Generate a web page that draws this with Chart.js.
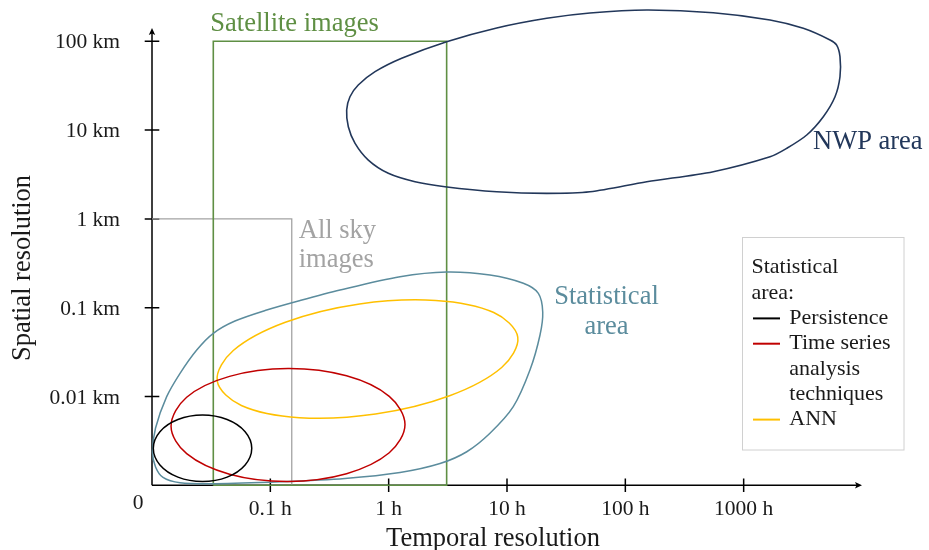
<!DOCTYPE html>
<html>
<head>
<meta charset="utf-8">
<script src="https://cdn.jsdelivr.net/npm/chart.js@4/dist/chart.umd.min.js"></script>
<style>
  html, body { margin: 0; padding: 0; background: #ffffff; }
  #wrap { width: 929px; height: 550px; }
</style>
</head>
<body>
<div id="wrap"><canvas id="c" width="929" height="550"></canvas></div>
<script>
// Both axes run in decades: x = log10(hours), y = log10(km).
// The origin ("0") sits at x = -2 (0.01 h) and y = -3 (0.001 km).
const xAxisStart = -2, xAxisEnd = 4;
const yAxisStart = -3, yAxisEnd = 2.15;
const xTickValues = [-1, 0, 1, 2, 3];
const xTickLabels = ['0.1 h', '1 h', '10 h', '100 h', '1000 h'];
const yTickValues = [-2, -1, 0, 1, 2];
const yTickLabels = ['0.01 km', '0.1 km', '1 km', '10 km', '100 km'];
const originLabel = '0';
const xTitle = 'Temporal resolution';
const yTitle = 'Spatial resolution';

// Outlines of the forecasting domains, [log10 h, log10 km]
const nwpArea = [
  [-0.355, 1.226], [-0.327, 1.376], [-0.257, 1.508], [-0.115, 1.658], [0.110, 1.809],
  [0.490, 1.995], [0.913, 2.150], [1.336, 2.259], [1.701, 2.319], [2.181, 2.352],
  [2.743, 2.322], [3.223, 2.240], [3.504, 2.146], [3.730, 2.015], [3.786, 1.958],
  [3.814, 1.827], [3.814, 1.601], [3.772, 1.376], [3.673, 1.151], [3.533, 0.945],
  [3.364, 0.795], [3.223, 0.700], [2.743, 0.532], [2.181, 0.419], [1.701, 0.306],
  [1.336, 0.288], [0.913, 0.306], [0.476, 0.363], [0.223, 0.419], [-0.003, 0.514],
  [-0.172, 0.663], [-0.284, 0.851], [-0.341, 1.038]
];
const statisticalArea = [
  [-1.996, -2.625], [-1.970, -2.355], [-1.876, -2.002], [-1.763, -1.739], [-1.622, -1.476],
  [-1.482, -1.288], [-1.299, -1.150], [-1.031, -1.026], [-0.749, -0.919], [-0.411, -0.801],
  [0.096, -0.651], [0.490, -0.598], [0.856, -0.632], [1.138, -0.725], [1.265, -0.838],
  [1.302, -1.048], [1.279, -1.307], [1.194, -1.702], [1.053, -2.115], [0.856, -2.414],
  [0.660, -2.622], [0.434, -2.755], [0.096, -2.856], [-0.369, -2.923], [-0.918, -2.961],
  [-1.468, -2.983], [-1.763, -2.972], [-1.907, -2.912], [-1.970, -2.794]
];
const annArea = [
  [1.091, -1.331], [0.888, -1.054], [0.398, -0.918], [-0.246, -0.958], [-0.873, -1.164],
  [-1.313, -1.482], [-1.449, -1.824], [-1.245, -2.101], [-0.755, -2.238], [-0.111, -2.197],
  [0.515, -1.991], [0.955, -1.673]
];
const timeSeriesArea = [
  [0.138, -2.315], [0.005, -1.998], [-0.356, -1.767], [-0.851, -1.685], [-1.345, -1.773],
  [-1.707, -2.008], [-1.839, -2.335], [-1.707, -2.644], [-1.345, -2.875], [-0.851, -2.957],
  [-0.356, -2.869], [0.005, -2.634]
];
const persistenceArea = [
  [-1.157, -2.583], [-1.213, -2.396], [-1.365, -2.259], [-1.573, -2.208], [-1.781, -2.259],
  [-1.933, -2.396], [-1.989, -2.583], [-1.933, -2.771], [-1.781, -2.908], [-1.573, -2.958],
  [-1.365, -2.908], [-1.213, -2.771]
];
// Measurement coverage: satellite frame and all-sky-imager corner
const satelliteImages = [[-1.482, -3], [-1.482, 2], [0.490, 2], [0.490, -3], [-1.482, -3]];
const allSkyImages = [[-2, 0], [-0.819, 0], [-0.819, -3]];

const legendTitle = ['Statistical', 'area:'];
const legendLines = [['Persistence'], ['Time series', 'analysis', 'techniques'], ['ANN']];

const colors = {
  nwp: '#22375a',
  satellite: '#5f8f44',
  statistical: '#5b8c9d',
  allSky: '#a3a3a3',
  persistence: '#000000',
  timeSeries: '#c00000',
  ann: '#ffc000',
  text: '#1a1a1a'
};
const serif = '"Liberation Serif", "Times New Roman", serif';

const toPoints = pts => pts.map(([x, y]) => ({ x, y }));

// Closed outline: wrap the point list so the spline is smooth where it joins,
// and hide the two lead-in/lead-out segments.
function loopDataset(label, pts, color, width, tension) {
  const n = pts.length;
  const seq = [pts[n - 1], ...pts, pts[0], pts[1]];
  return {
    label,
    data: toPoints(seq),
    showLine: true,
    tension,
    borderColor: color,
    borderWidth: width,
    pointRadius: 0,
    clip: false,
    segment: {
      borderColor: ctx => (ctx.p0DataIndex === 0 || ctx.p0DataIndex === n + 1) ? 'rgba(0,0,0,0)' : color
    }
  };
}
function polyDataset(label, pts, color, width) {
  return {
    label,
    data: toPoints(pts),
    showLine: true,
    tension: 0,
    borderColor: color,
    borderWidth: width,
    borderJoinStyle: 'miter',
    pointRadius: 0,
    clip: false
  };
}

const axesPlugin = {
  id: 'decadeAxes',
  beforeDatasetsDraw(chart) {
    const { ctx } = chart;
    const xs = chart.scales.x, ys = chart.scales.y;
    const x0 = xs.getPixelForValue(xAxisStart), y0 = ys.getPixelForValue(yAxisStart);
    const xTip = xs.getPixelForValue(xAxisEnd), yTip = ys.getPixelForValue(yAxisEnd);
    ctx.save();
    ctx.strokeStyle = '#000';
    ctx.fillStyle = '#000';
    ctx.lineWidth = 1.5;
    ctx.beginPath();
    ctx.moveTo(x0, y0); ctx.lineTo(xTip - 5, y0);
    ctx.moveTo(x0, y0); ctx.lineTo(x0, yTip + 5);
    xTickValues.forEach(v => {
      const px = xs.getPixelForValue(v);
      ctx.moveTo(px, y0 - 6.7); ctx.lineTo(px, y0 + 6.7);
    });
    yTickValues.forEach(v => {
      const py = ys.getPixelForValue(v);
      ctx.moveTo(x0 - 7.3, py); ctx.lineTo(x0 + 7.3, py);
    });
    ctx.stroke();
    // arrow heads
    ctx.beginPath();
    ctx.moveTo(xTip, y0); ctx.lineTo(xTip - 7, y0 - 3.2); ctx.lineTo(xTip - 5.5, y0); ctx.lineTo(xTip - 7, y0 + 3.2);
    ctx.closePath();
    ctx.moveTo(x0, yTip); ctx.lineTo(x0 - 3.2, yTip + 7); ctx.lineTo(x0, yTip + 5.5); ctx.lineTo(x0 + 3.2, yTip + 7);
    ctx.closePath();
    ctx.fill();

    // tick labels
    ctx.fillStyle = colors.text;
    ctx.font = '21.5px ' + serif;
    ctx.textBaseline = 'alphabetic';
    ctx.textAlign = 'center';
    xTickValues.forEach((v, i) => ctx.fillText(xTickLabels[i], xs.getPixelForValue(v), y0 + 30));
    ctx.textAlign = 'right';
    yTickValues.forEach((v, i) => ctx.fillText(yTickLabels[i], x0 - 32, ys.getPixelForValue(v) + 7));
    ctx.textAlign = 'center';
    ctx.fillText(originLabel, x0 - 14, y0 + 24);

    // axis titles
    ctx.font = '26.5px ' + serif;
    ctx.fillText(xTitle, 493, 546);
    ctx.translate(30, 268);
    ctx.rotate(-Math.PI / 2);
    ctx.fillText(yTitle, 0, 0);
    ctx.restore();
  }
};

const labelsPlugin = {
  id: 'areaLabels',
  afterDatasetsDraw(chart) {
    const { ctx } = chart;
    const xs = chart.scales.x, ys = chart.scales.y;
    ctx.save();
    ctx.font = '26.5px ' + serif;
    ctx.textBaseline = 'alphabetic';

    ctx.fillStyle = colors.satellite;
    ctx.textAlign = 'left';
    ctx.fillText('Satellite images', xs.getPixelForValue(satelliteImages[1][0]) - 3, ys.getPixelForValue(satelliteImages[1][1]) - 10);

    ctx.fillStyle = colors.nwp;
    ctx.fillText('NWP area', 813, 148.5);

    ctx.fillStyle = colors.allSky;
    const skyX = xs.getPixelForValue(allSkyImages[1][0]) + 7;
    ctx.fillText('All sky', skyX, 237.5);
    ctx.fillText('images', skyX, 266.5);

    ctx.fillStyle = colors.statistical;
    ctx.textAlign = 'center';
    ctx.fillText('Statistical', 606.5, 303.5);
    ctx.fillText('area', 606.5, 334);

    // legend box for the statistical methods
    ctx.strokeStyle = '#d0d0d0';
    ctx.lineWidth = 1;
    ctx.strokeRect(742.5, 237.5, 161.5, 212.5);
    ctx.font = '22px ' + serif;
    ctx.fillStyle = colors.text;
    ctx.textAlign = 'left';
    const lineStep = 25.3;
    let base = 273.3;
    legendTitle.forEach(t => { ctx.fillText(t, 751.5, base); base += lineStep; });
    const entries = chart.data.datasets.filter(d => d.legendIndex !== undefined)
      .sort((a, b) => a.legendIndex - b.legendIndex);
    entries.forEach(d => {
      const lines = legendLines[d.legendIndex];
      ctx.strokeStyle = d.borderColor;
      ctx.lineWidth = 2;
      ctx.beginPath();
      ctx.moveTo(753, base - 5.5);
      ctx.lineTo(780, base - 5.5);
      ctx.stroke();
      ctx.fillStyle = colors.text;
      lines.forEach(t => { ctx.fillText(t, 789.3, base); base += lineStep; });
    });
    ctx.restore();
  }
};

const datasets = [
  Object.assign(loopDataset('Persistence', persistenceArea, colors.persistence, 1.5, 0.35), { legendIndex: 0 }),
  Object.assign(loopDataset('Time series analysis techniques', timeSeriesArea, colors.timeSeries, 1.5, 0.35), { legendIndex: 1 }),
  Object.assign(loopDataset('ANN', annArea, colors.ann, 1.5, 0.35), { legendIndex: 2 }),
  loopDataset('Statistical area', statisticalArea, colors.statistical, 1.5, 0.3),
  loopDataset('NWP area', nwpArea, colors.nwp, 1.6, 0.3),
  polyDataset('Satellite images', satelliteImages, colors.satellite, 1.6),
  polyDataset('All sky images', allSkyImages, colors.allSky, 1.3)
];

new Chart(document.getElementById('c'), {
  type: 'scatter',
  data: { datasets },
  options: {
    responsive: false,
    devicePixelRatio: 1,
    animation: false,
    layout: { padding: { left: 152, right: 67, top: 28, bottom: 64.7 } },
    elements: { line: { capBezierPoints: false } },
    scales: {
      x: { type: 'linear', min: xAxisStart, max: xAxisEnd, display: false },
      y: { type: 'linear', min: yAxisStart, max: yAxisEnd, display: false }
    },
    plugins: { legend: { display: false }, tooltip: { enabled: false } }
  },
  plugins: [axesPlugin, labelsPlugin]
});
</script>
</body>
</html>
